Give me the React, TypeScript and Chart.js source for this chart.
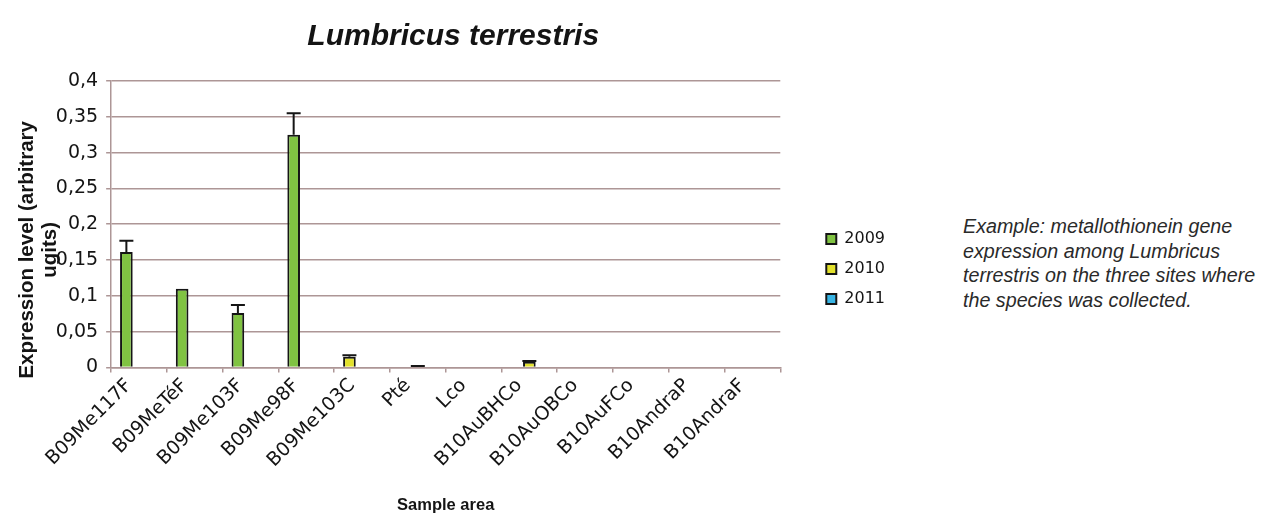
import React, { useEffect, useRef } from 'react';
import { Chart, registerables } from 'chart.js';

Chart.register(...registerables);

// ---------- data ----------
const categories = [
  'B09Me117F', 'B09MeTéF', 'B09Me103F', 'B09Me98F', 'B09Me103C', 'Pté',
  'Lco', 'B10AuBHCo', 'B10AuOBCo', 'B10AuFCo', 'B10AndraP', 'B10AndraF',
];
const seriesLabels = ['2009', '2010', '2011'];
const values2009 = [0.161, 0.110, 0.076, 0.325, 0.015, null, null, null, null, null, null, null];
const errors2009 = [0.016, 0, 0.011, 0.030, 0.002, 0, 0, 0, 0, 0, 0, 0];
const values2010 = [null, null, null, null, null, 0.001, null, 0.008, null, null, null, null];
const errors2010 = [0, 0, 0, 0, 0, 0.001, 0, 0.001, 0, 0, 0, 0];
const values2011 = [null, null, null, null, null, null, null, null, null, null, null, null];
const errors2011 = [0, 0, 0, 0, 0, 0, 0, 0, 0, 0, 0, 0];
const yTickLabels = ['0', '0,05', '0,1', '0,15', '0,2', '0,25', '0,3', '0,35', '0,4'];
const chartTitle = 'Lumbricus terrestris';
const yTitleLines = ['Expression level (arbitrary', 'ugits)'];
const xTitle = 'Sample area';
const captionLines = [
  'Example: metallothionein gene',
  'expression among Lumbricus',
  'terrestris on the three sites where',
  'the species was collected.',
];

// ---------- styles ----------
const GREEN = '#80c342';
const YELLOW = '#e2e12c';
const BLUE = '#38b4e4';
const EDGE = '#151515';
const GRID = '#ad9696';
const TEXT = '#141414';
const highlight2010Sample = 'B09Me103C';
const colors2009 = categories.map((c) => (c === highlight2010Sample ? YELLOW : GREEN));
// trailing spaces push the centred rotated title towards the bottom, as in the source
const TITLE_SHIFT = '         ';
const yTitle = yTitleLines.map((l) => l + TITLE_SHIFT);

const errorSets = [errors2009, errors2010, errors2011];

const errorBarPlugin = {
  id: 'errorBars',
  afterDatasetsDraw(chart: any) {
    const { ctx } = chart;
    const yScale = chart.scales.y;
    chart.data.datasets.forEach((ds: any, di: number) => {
      const meta = chart.getDatasetMeta(di);
      const errs = errorSets[di];
      meta.data.forEach((bar: any, i: number) => {
        const v = ds.data[i];
        const e = errs[i];
        if (v == null || !e) return;
        const x = bar.x;
        const y0 = yScale.getPixelForValue(v);
        const y1 = yScale.getPixelForValue(v + e);
        const half = 7;
        ctx.save();
        ctx.strokeStyle = EDGE;
        ctx.lineWidth = 2;
        ctx.beginPath();
        ctx.moveTo(x, y0);
        ctx.lineTo(x, y1);
        ctx.moveTo(x - half, y1);
        ctx.lineTo(x + half, y1);
        ctx.stroke();
        ctx.restore();
      });
    });
  },
};

export default function App() {
  const ref = useRef<HTMLCanvasElement>(null);

  useEffect(() => {
    const chart = new Chart(ref.current as HTMLCanvasElement, {
      type: 'bar',
      data: {
        labels: categories,
        datasets: [
          { label: seriesLabels[0], data: values2009, backgroundColor: colors2009, borderColor: EDGE, borderWidth: 2 },
          { label: seriesLabels[1], data: values2010, backgroundColor: YELLOW, borderColor: EDGE, borderWidth: 2 },
          { label: seriesLabels[2], data: values2011, backgroundColor: BLUE, borderColor: EDGE, borderWidth: 2 },
        ] as any,
      },
      options: {
        responsive: false,
        animation: false,
        devicePixelRatio: 1,
        layout: { padding: { left: 11.5, right: 0, top: 0, bottom: 8 } },
        datasets: { bar: { categoryPercentage: 0.68, barPercentage: 1.0 } },
        plugins: {
          tooltip: { enabled: false },
          title: {
            display: true,
            text: chartTitle,
            color: TEXT,
            font: { family: '"Liberation Sans", Arial, sans-serif', size: 30, weight: 'bold', style: 'italic' },
            padding: { top: 19, bottom: 26 },
          },
          legend: {
            display: true,
            position: 'right',
            align: 'center',
            title: { display: true, text: '', font: { size: 10, lineHeight: 2.3 }, padding: 0 },
            labels: {
              boxWidth: 10,
              boxHeight: 10,
              padding: 14,
              color: TEXT,
              font: { family: '"DejaVu Sans", sans-serif', size: 16 },
            },
          },
        },
        scales: {
          x: {
            grid: { display: true, offset: true, drawOnChartArea: false, drawTicks: true, tickLength: 5, color: GRID, lineWidth: 1.5 },
            border: { display: true, color: GRID, width: 1.5 },
            ticks: {
              autoSkip: false,
              minRotation: 45,
              maxRotation: 45,
              padding: 2,
              labelOffset: -10,
              color: TEXT,
              font: { family: '"DejaVu Sans", sans-serif', size: 19 },
            },
            title: {
              display: true,
              text: xTitle,
              color: TEXT,
              font: { family: '"Liberation Sans", Arial, sans-serif', size: 16.5, weight: 'bold' },
              padding: { top: 21.5, bottom: 0 },
            },
          },
          y: {
            min: 0,
            max: 0.4,
            grid: { color: GRID, lineWidth: 1.5, tickLength: 5, drawTicks: true },
            border: { display: true, color: GRID, width: 1.5 },
            ticks: {
              stepSize: 0.05,
              padding: 8,
              color: TEXT,
              font: { family: '"DejaVu Sans", sans-serif', size: 19 },
              callback: (_v: any, i: number) => yTickLabels[i],
            },
            title: {
              display: true,
              text: yTitle,
              color: TEXT,
              font: { family: '"Liberation Sans", Arial, sans-serif', size: 20.5, weight: 'bold', lineHeight: 1.13 },
              padding: { top: 4, bottom: -14 },
            },
          },
          spacer: {
            type: 'linear',
            position: 'right',
            display: true,
            grid: { display: false, drawTicks: false },
            border: { display: false },
            ticks: { display: false },
            afterFit: (s: any) => { s.width = 32; },
          },
        } as any,
      },
      plugins: [errorBarPlugin],
    } as any);
    return () => chart.destroy();
  }, []);

  return (
    <div style={{ position: 'fixed', left: 0, top: 0, width: 1263, height: 523, background: '#fff', overflow: 'hidden' }}>
      <canvas ref={ref} width={895} height={523} style={{ position: 'absolute', left: 0, top: 0, display: 'block' }} />
      <div
        style={{
          position: 'absolute',
          left: 963,
          top: 214,
          fontFamily: '"Liberation Sans", Arial, sans-serif',
          fontStyle: 'italic',
          fontSize: 19.7,
          lineHeight: '24.7px',
          color: '#2a2a2a',
          whiteSpace: 'nowrap',
        }}
      >
        {captionLines.map((l) => (
          <div key={l}>{l}</div>
        ))}
      </div>
    </div>
  );
}
